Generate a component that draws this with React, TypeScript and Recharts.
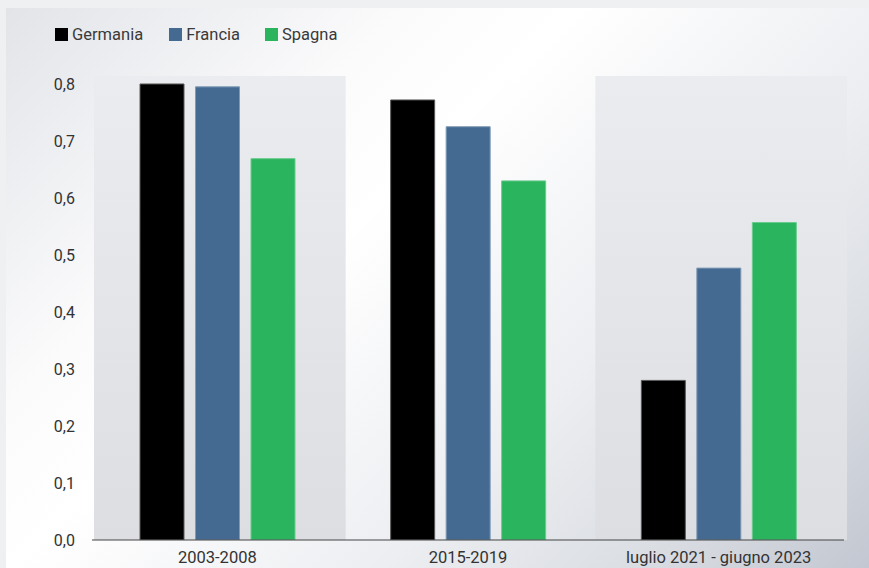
import React from "react";
import { BarChart, Bar, XAxis, YAxis, ReferenceArea } from "recharts";

const categories = ["2003-2008", "2015-2019", "luglio 2021 - giugno 2023"];
const germania = [0.8, 0.772, 0.28];
const francia = [0.795, 0.725, 0.477];
const spagna = [0.669, 0.63, 0.557];
const yTicks = [0, 0.1, 0.2, 0.3, 0.4, 0.5, 0.6, 0.7, 0.8];
const shadedCategories = ["2003-2008", "luglio 2021 - giugno 2023"];

const series = [
  { key: "germania", name: "Germania", color: "#000000", stroke: "#5a5a5a" },
  { key: "francia", name: "Francia", color: "#456a91", stroke: "#7f9ab6" },
  { key: "spagna", name: "Spagna", color: "#2bb45e", stroke: "#6acb8e" },
];

const data = categories.map((c, i) => ({
  category: c,
  germania: germania[i],
  francia: francia[i],
  spagna: spagna[i],
}));

const fmt = (v: number) => v.toFixed(1).replace(".", ",");
const FONT = "Roboto, 'Noto Sans', sans-serif";

const BandShape = (props: any) => {
  const { x, y, width, height } = props;
  if (x == null || y == null) return null;
  return (
    <rect
      x={x + 2}
      y={y}
      width={width + 1}
      height={height}
      fill="url(#bandGrad)"
      stroke="none"
    />
  );
};

export default function App() {
  return (
    <div
      style={{
        position: "absolute",
        left: 0,
        top: 0,
        width: 869,
        height: 568,
        background: "#eff0f2",
        overflow: "hidden",
        fontFamily: FONT,
      }}
    >
      <div
        style={{
          position: "absolute",
          left: 6,
          top: 8,
          width: 863,
          height: 560,
          background:
            "linear-gradient(135deg, #e2e4e8 0%, #fbfbfc 28%, #ffffff 40%, #f4f5f7 55%, #eceef1 66%, #dcdfe4 82%, #c3c7d1 100%)",
        }}
      />
      <div
        style={{
          position: "absolute",
          left: 55,
          top: 25,
          display: "flex",
          alignItems: "center",
          fontSize: 16.5,
          color: "#3a3a3a",
          fontFamily: FONT,
        }}
      >
        {series.map((s, i) => (
          <div
            key={s.key}
            style={{
              display: "flex",
              alignItems: "center",
              marginRight: i === 0 ? 26 : 25,
            }}
          >
            <div
              style={{
                width: 13,
                height: 13,
                background: s.color,
                marginRight: 4,
              }}
            />
            <span>{s.name}</span>
          </div>
        ))}
      </div>
      <div style={{ position: "absolute", left: 0, top: 0 }}>
        <BarChart
          width={869}
          height={568}
          data={data}
          margin={{ top: 76, right: 25, bottom: 0, left: 0 }}
          barGap={11.5}
        >
          <defs>
            <linearGradient id="bandGrad" x1="0" y1="0" x2="0" y2="1">
              <stop offset="0%" stopColor="#ebecef" />
              <stop offset="100%" stopColor="#dddee2" />
            </linearGradient>
          </defs>
          {shadedCategories.map((c) => (
            <ReferenceArea
              key={c}
              x1={c}
              x2={c}
              shape={BandShape}
              ifOverflow="extendDomain"
            />
          ))}
          <XAxis
            dataKey="category"
            height={28}
            tickLine={false}
            tickMargin={5}
            axisLine={{ stroke: "#444444", strokeWidth: 1.2 }}
            tick={{ fill: "#333333", fontSize: 16.5, fontFamily: FONT }}
            interval={0}
          />
          <YAxis
            width={92}
            domain={[0, 0.814]}
            ticks={yTicks}
            tickFormatter={fmt}
            axisLine={false}
            tickLine={false}
            tickMargin={11}
            tick={{ fill: "#333333", fontSize: 16, fontFamily: FONT }}
            allowDataOverflow
          />
          {series.map((s) => (
            <Bar
              key={s.key}
              dataKey={s.key}
              name={s.name}
              fill={s.color}
              stroke={s.stroke}
              strokeWidth={1}
              barSize={44}
              isAnimationActive={false}
            />
          ))}
        </BarChart>
      </div>
    </div>
  );
}
